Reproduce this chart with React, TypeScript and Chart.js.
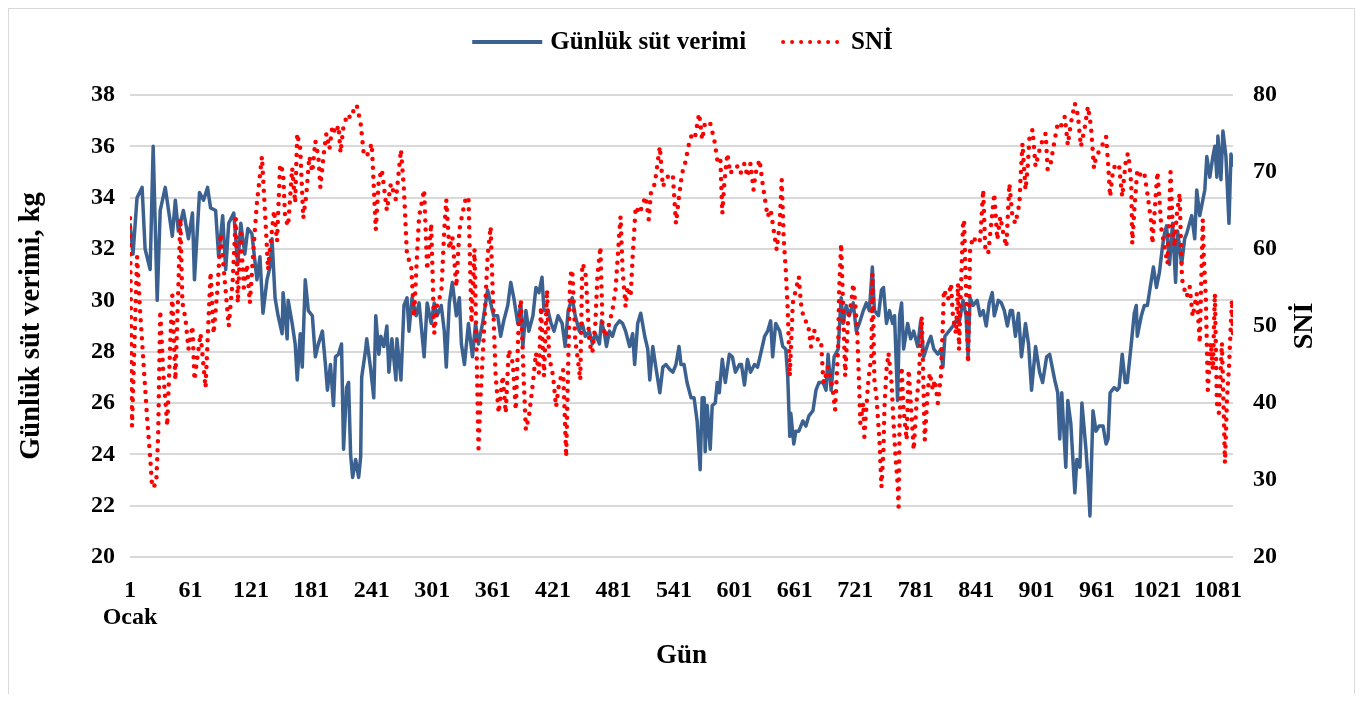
import React, { useEffect, useRef } from "react";
import { Chart, registerables } from "chart.js";

Chart.register(...registerables);

// Day number and daily milk yield (kg)
const milkPoints: [number, number][] = [
  [1,33.0],[4,31.8],[8,34.0],[13,34.4],[16,32.0],[21,31.2],[24,36.0],[28,30.0],[31,33.5],[36,34.4],[43,32.5],[46,33.9],[49,32.7],[54,33.5],[59,32.4],[63,33.4],[65,30.8],[70,34.2],[74,33.9],[78,34.4],[81,33.6],[86,33.5],[89,31.7],[93,33.3],[96,31.2],[99,33.0],[104,33.4],[108,31.4],[111,33.0],[115,31.8],[118,32.8],[122,32.6],[127,30.8],[130,31.7],[133,29.5],[137,30.8],[140,31.3],[142,32.4],[145,30.1],[148,29.4],[152,28.7],[153,30.3],[157,28.5],[158,30.0],[162,29.1],[165,28.3],[167,26.9],[170,28.7],[172,27.4],[175,30.8],[178,29.6],[182,29.4],[185,27.8],[188,28.3],[192,28.8],[195,27.5],[197,26.5],[200,27.5],[203,25.9],[205,27.8],[208,27.9],[211,28.3],[213,24.2],[216,26.6],[218,26.8],[220,24.0],[222,23.1],[225,23.8],[228,23.1],[230,23.9],[231,27.0],[235,28.1],[236,28.5],[240,27.3],[243,26.2],[245,29.4],[248,27.9],[250,28.6],[253,28.2],[256,29.0],[258,27.2],[261,28.5],[265,26.9],[266,28.5],[270,26.9],[273,29.8],[276,30.1],[278,28.8],[281,30.1],[285,29.4],[288,29.9],[293,27.8],[296,29.9],[300,29.1],[303,29.9],[306,29.4],[310,29.8],[313,28.8],[315,27.4],[318,29.9],[321,30.7],[325,29.4],[328,30.1],[330,28.3],[333,27.5],[337,29.1],[341,27.8],[344,29.1],[347,28.3],[351,29.1],[356,30.4],[359,29.9],[362,29.4],[366,29.4],[369,28.6],[372,29.2],[376,29.8],[379,30.7],[382,30.1],[386,29.1],[389,29.9],[391,28.2],[394,29.6],[397,28.8],[401,29.4],[404,30.5],[407,30.3],[410,30.9],[412,29.6],[416,29.6],[419,29.1],[422,28.8],[426,29.4],[430,29.1],[433,28.2],[436,29.6],[440,30.1],[443,29.4],[447,28.8],[450,29.1],[453,28.6],[457,28.8],[460,28.3],[463,28.7],[467,28.3],[469,29.2],[472,28.7],[474,28.2],[477,28.8],[480,28.6],[483,29.0],[487,29.2],[490,29.1],[493,28.8],[497,28.2],[500,28.7],[502,27.5],[505,29.1],[508,29.5],[512,28.6],[515,28.1],[517,26.9],[520,28.2],[523,27.4],[527,26.4],[530,27.4],[533,27.5],[537,27.3],[540,27.2],[543,27.5],[546,28.2],[548,27.5],[551,27.5],[554,26.8],[558,26.2],[561,26.2],[564,25.3],[567,23.4],[569,26.2],[571,26.2],[572,24.1],[574,25.9],[577,24.2],[579,25.9],[582,26.0],[584,26.8],[586,26.4],[589,27.7],[592,26.8],[596,27.9],[599,27.8],[602,27.2],[606,27.5],[608,27.5],[611,26.7],[614,27.7],[617,27.2],[621,27.5],[624,27.4],[627,27.9],[631,28.6],[634,28.8],[637,29.2],[639,27.8],[642,29.1],[646,28.8],[649,28.2],[652,28.1],[654,27.0],[656,24.7],[657,25.6],[660,24.4],[662,24.9],[665,24.9],[669,25.3],[672,25.1],[675,25.5],[679,25.7],[682,26.5],[685,26.8],[689,26.8],[692,26.5],[694,27.9],[697,26.5],[700,27.8],[704,28.1],[707,30.1],[709,29.1],[712,29.8],[715,29.4],[719,29.9],[722,28.8],[725,29.1],[729,29.6],[732,29.9],[735,29.6],[738,31.3],[740,29.6],[744,29.4],[747,30.4],[749,30.5],[752,29.1],[755,29.6],[758,29.1],[760,29.4],[763,26.1],[765,29.4],[767,29.9],[769,28.1],[773,29.1],[776,28.5],[779,28.8],[783,28.2],[786,29.2],[789,27.8],[793,28.3],[796,28.6],[799,28.1],[803,27.9],[806,28.1],[808,27.4],[810,28.6],[814,28.8],[818,29.0],[821,29.2],[824,29.1],[828,30.0],[831,29.4],[833,27.8],[835,30.1],[838,29.8],[842,30.0],[845,29.4],[848,29.6],[851,29.0],[854,29.9],[857,30.3],[859,29.4],[863,30.0],[866,29.9],[869,29.6],[872,29.0],[875,29.6],[877,29.6],[880,28.6],[883,29.5],[886,27.8],[890,29.1],[893,28.3],[896,26.5],[900,28.2],[904,27.2],[907,26.8],[911,27.8],[914,27.9],[919,26.9],[922,26.4],[924,24.6],[926,26.4],[930,23.5],[932,26.1],[935,25.2],[939,22.5],[941,23.8],[944,23.5],[946,26.0],[950,24.2],[952,23.1],[954,21.6],[957,25.7],[960,24.9],[963,25.1],[967,25.1],[970,24.4],[972,24.6],[974,26.4],[978,26.6],[981,26.5],[983,26.6],[986,27.9],[989,26.8],[991,26.8],[995,28.3],[998,29.5],[1000,29.8],[1001,28.6],[1005,29.4],[1008,29.8],[1011,29.8],[1015,30.8],[1017,31.3],[1020,30.5],[1023,31.1],[1026,32.1],[1028,32.6],[1030,32.9],[1033,31.4],[1036,33.0],[1039,30.7],[1041,32.7],[1045,31.4],[1048,32.4],[1050,32.6],[1055,33.3],[1058,32.4],[1060,34.3],[1063,33.3],[1066,33.9],[1068,34.3],[1070,35.6],[1073,34.8],[1076,35.6],[1078,36.0],[1080,34.8],[1081,36.4],[1084,34.7],[1086,36.6],[1089,35.6],[1092,33.0],[1094,35.7],[1096,35.2]
];

// Day number and SNİ (temperature-humidity index)
const sniPoints: [number, number][] = [
  [1,64],[3,37],[8,59],[11,52],[15,44],[18,38],[21,33],[23,29],[27,29.5],[29,36],[31,52],[34,44],[38,37],[41,48],[43,54],[46,43],[49,55],[51,64],[53,53],[56,51],[59,47],[63,50],[65,43],[71,49],[76,42],[81,57],[84,49],[88,55],[91,62],[95,56],[99,50],[103,56],[106,64],[108,53],[111,62],[114,55],[117,58],[120,53],[124,60.7],[127,66],[132,72],[137,60],[138,57.3],[140,60],[144,65],[147,61],[150,71],[153,70],[155,64],[158,63],[162,70.5],[165,66],[167,75],[170,73],[173,64],[176,67],[179,72],[182,70],[185,74],[188,72],[190,68],[193,72],[196,75],[199,73],[202,76],[205,75],[208,76],[210,72.5],[213,76],[217,77.5],[220,77],[223,78],[226,78.7],[230,76.3],[233,72.4],[236,72],[241,73.7],[245,62.5],[248,69],[251,70.3],[256,65],[260,68.5],[265,66.4],[270,72.9],[273,67.7],[276,59],[280,58.1],[283,51.2],[286,59.4],[288,64.2],[293,67.7],[296,57.3],[300,63.3],[303,49],[306,53],[310,54.2],[313,62.5],[315,66.4],[318,60],[321,61.6],[325,55.1],[328,62.5],[331,64.6],[334,66.4],[337,66.8],[340,50.4],[343,60],[347,34.1],[349,40.8],[352,48.2],[356,59],[359,62.9],[361,54.7],[364,43.5],[367,38.7],[371,43.5],[374,38.7],[377,46.9],[381,45.2],[384,39.1],[387,51.1],[389,53.4],[392,42.6],[394,36.5],[397,38.2],[401,42.6],[404,46.5],[407,43.9],[409,52.5],[412,43.5],[415,54.7],[417,46.1],[421,43.5],[424,39.5],[427,42.6],[431,44.3],[434,33],[436,45],[438,56.4],[440,57.3],[441,54.7],[443,48.2],[446,45.2],[448,43],[450,58.1],[453,57.3],[455,53],[457,47.8],[460,46.5],[463,50.4],[465,56.4],[468,60.3],[470,50.4],[473,48.6],[477,50.4],[480,52.1],[483,54.7],[487,62.5],[488,64.2],[490,57.3],[493,52.5],[495,55.1],[498,53.8],[500,59],[502,63.3],[503,65.5],[507,64.6],[510,65.9],[513,66.8],[516,63.8],[518,67.2],[522,68.5],[527,73.3],[530,68.1],[533,69],[537,69.8],[540,69.4],[543,63.3],[546,66.8],[549,69.8],[552,71.1],[556,73.7],[559,75],[562,74.6],[566,77.6],[569,74.2],[572,76.5],[577,76.3],[581,74.2],[584,71.6],[587,72],[589,64.6],[591,68.5],[594,72.4],[597,69.8],[601,70.7],[604,70.7],[607,69.8],[611,71.1],[614,69.4],[617,71.1],[620,67.7],[622,69.8],[626,71.6],[629,68.5],[632,65.9],[634,64.2],[637,65.1],[641,61.6],[643,59.9],[646,63.3],[648,69],[650,61.2],[652,57.3],[654,52],[656,43.5],[659,53],[662,54.7],[665,56.4],[667,53],[670,50.8],[674,50.4],[677,47.3],[680,49.5],[684,48.2],[687,48.2],[689,43.5],[690,42.6],[694,44.7],[697,43],[699,41.3],[701,39.1],[704,47.3],[705,54.7],[707,60.7],[709,52.1],[711,43.5],[714,51.2],[717,53],[719,55.5],[721,53],[723,49],[725,41.7],[726,37.4],[729,40],[730,35.6],[734,43],[737,46.1],[738,56.8],[739,50.4],[740,43],[742,40.8],[745,35.2],[747,29.1],[749,33.9],[750,39.5],[752,44.3],[754,46.5],[757,42.6],[759,37.4],[761,33],[763,29.6],[764,26.5],[765,37.4],[767,44.7],[769,39.1],[772,35.2],[774,44.3],[777,38.2],[779,33.9],[782,40.4],[784,43],[787,51.2],[788,46.1],[790,35.2],[793,41.7],[795,43.9],[798,41.7],[800,43],[803,40],[806,43.5],[808,50.4],[809,54.7],[813,53.4],[816,55.5],[818,51.2],[821,49],[823,55.5],[824,46.9],[828,63.3],[829,63.8],[831,54.7],[833,45.2],[835,60],[838,61.6],[842,60.7],[845,61.2],[848,67.7],[850,60.3],[853,59.4],[856,63.3],[859,67.2],[862,61.2],[865,64.2],[868,62],[871,60.3],[874,68.5],[877,64.2],[880,63.3],[884,65.9],[885,69],[887,73.7],[890,67.7],[892,70.3],[894,74.6],[897,75.5],[900,70.7],[904,72.9],[907,74.2],[910,75],[912,70.3],[915,71.1],[919,74.2],[922,76.3],[925,75.9],[929,77.2],[932,73.5],[935,76.3],[939,78.9],[942,77.4],[945,73.3],[949,75.9],[952,78.5],[955,75.9],[958,70.5],[960,72],[964,72.9],[967,73.7],[970,74.6],[972,71.1],[974,66.8],[977,70.3],[980,71.1],[983,70.7],[986,66.8],[990,72],[992,72.4],[995,68.5],[996,60.7],[998,65],[1001,70.3],[1005,69.4],[1008,69.8],[1011,67.2],[1015,63.3],[1016,60.7],[1019,66.4],[1021,70],[1023,66.4],[1025,62.5],[1028,60.3],[1031,58.1],[1034,70],[1036,63.3],[1038,60.3],[1040,64.2],[1043,67.2],[1045,57.3],[1046,55.5],[1050,53.8],[1053,55.1],[1056,51.2],[1060,54.2],[1063,47.8],[1066,63.8],[1067,59],[1069,53.8],[1071,41.7],[1074,47.8],[1076,44.3],[1078,54.2],[1080,40],[1082,38.7],[1085,47.8],[1086,43],[1088,32.2],[1090,40.4],[1092,44.7],[1095,53.4],[1096,48.6]
];

const xTickValues = [1, 61, 121, 181, 241, 301, 361, 421, 481, 541, 601, 661, 721, 781, 841, 901, 961, 1021, 1081];
const firstTickSubLabel = "Ocak";
const seriesNames = ["Günlük süt verimi", "SNİ"];
const leftAxisTitle = "Günlük süt verimi, kg";
const rightAxisTitle = "SNİ";
const xAxisTitle = "Gün";

const FONT = "'Liberation Serif', 'Times New Roman', serif";
const BLUE = "#3b6191";
const RED = "#ff0000";

const overlayPlugin = {
  id: "overlay",
  afterDraw(chart: any) {
    const ctx = chart.ctx as CanvasRenderingContext2D;
    const area = chart.chartArea;
    ctx.save();
    // legend
    ctx.font = `bold 25px ${FONT}`;
    ctx.textBaseline = "middle";
    ctx.textAlign = "left";
    ctx.fillStyle = "#000";
    const s1 = 70, s2 = 62, gt = 8, gi = 35;
    const w1 = ctx.measureText(seriesNames[0]).width;
    const w2 = ctx.measureText(seriesNames[1]).width;
    const total = s1 + gt + w1 + gi + s2 + gt + w2;
    let x = chart.width / 2 + 1 - total / 2;
    const y = 33;
    ctx.strokeStyle = BLUE;
    ctx.lineWidth = 4;
    ctx.lineCap = "butt";
    ctx.beginPath();
    ctx.moveTo(x, y);
    ctx.lineTo(x + s1, y);
    ctx.stroke();
    x += s1 + gt;
    ctx.fillText(seriesNames[0], x, y + 1);
    x += w1 + gi;
    ctx.strokeStyle = RED;
    ctx.lineWidth = 4;
    ctx.lineCap = "round";
    ctx.setLineDash([0, 9]);
    ctx.beginPath();
    ctx.moveTo(x + 2, y);
    ctx.lineTo(x + s2, y);
    ctx.stroke();
    ctx.setLineDash([]);
    x += s2 + gt;
    ctx.fillText(seriesNames[1], x, y + 1);
    // right axis title
    ctx.font = `bold 28px ${FONT}`;
    ctx.translate(area.right + 72, (area.top + area.bottom) / 2);
    ctx.rotate(-Math.PI / 2);
    ctx.textAlign = "center";
    ctx.fillText(rightAxisTitle, 0, 0);
    ctx.restore();
  },
};

export default function App() {
  const canvasRef = useRef<HTMLCanvasElement | null>(null);

  useEffect(() => {
    if (!canvasRef.current) return;
    const tickFont = { family: FONT, size: 24, weight: "bold" as const };
    const chart = new Chart(canvasRef.current, {
      type: "line",
      data: {
        datasets: [
          {
            label: seriesNames[1],
            data: sniPoints.map(([d, v]) => ({ x: d, y: v })),
            yAxisID: "y1",
            borderColor: RED,
            backgroundColor: RED,
            borderWidth: 4.5,
            borderDash: [0, 9],
            borderCapStyle: "round",
            pointRadius: 0,
            tension: 0,
            fill: false,
          },
          {
            label: seriesNames[0],
            data: milkPoints.map(([d, v]) => ({ x: d, y: v })),
            yAxisID: "y",
            borderColor: BLUE,
            backgroundColor: BLUE,
            borderWidth: 3.5,
            borderJoinStyle: "round",
            pointRadius: 0,
            tension: 0,
            fill: false,
          },
        ],
      },
      options: {
        animation: false,
        responsive: true,
        maintainAspectRatio: false,
        layout: { padding: { top: 86, left: 0, right: 0, bottom: 0 } },
        plugins: {
          legend: { display: false },
          tooltip: { enabled: false },
        },
        scales: {
          x: {
            type: "linear",
            min: 1,
            max: 1096,
            afterBuildTicks: (axis: any) => {
              axis.ticks = xTickValues.map((v) => ({ value: v }));
            },
            afterFit: (axis: any) => {
              axis.height = 137;
            },
            grid: { display: false, drawTicks: false },
            border: { display: false },
            ticks: {
              autoSkip: false,
              maxRotation: 0,
              minRotation: 0,
              padding: 20,
              color: "#000",
              font: { ...tickFont, lineHeight: 1.125 },
              callback: (value: any) =>
                Number(value) === 1 ? ["1", firstTickSubLabel] : String(value),
            },
            title: {
              display: true,
              text: xAxisTitle,
              color: "#000",
              font: { family: FONT, size: 27, weight: "bold" },
              padding: { top: 0, bottom: 22 },
            },
          },
          y: {
            type: "linear",
            position: "left",
            min: 20,
            max: 38,
            afterFit: (axis: any) => {
              axis.width = 121;
            },
            grid: { color: "#d9d9d9", lineWidth: 2, drawTicks: false },
            border: { display: false },
            ticks: {
              stepSize: 2,
              padding: 15,
              color: "#000",
              font: tickFont,
            },
            title: {
              display: true,
              text: leftAxisTitle,
              color: "#000",
              font: { family: FONT, size: 28.5, weight: "bold" },
              padding: { top: 6, bottom: 0 },
            },
          },
          y1: {
            type: "linear",
            position: "right",
            min: 20,
            max: 80,
            afterFit: (axis: any) => {
              axis.width = 121;
            },
            grid: { display: false, drawTicks: false },
            border: { display: false },
            ticks: {
              stepSize: 10,
              padding: 20,
              color: "#000",
              font: tickFont,
            },
          },
        },
      },
      plugins: [overlayPlugin],
    });
    return () => chart.destroy();
  }, []);

  return (
    <div
      style={{
        width: 1347,
        height: 686,
        border: "1px solid #d9d9d9",
        borderBottom: "none",
        boxSizing: "border-box",
        position: "relative",
        background: "#fff",
      }}
    >
      <canvas ref={canvasRef} />
    </div>
  );
}
